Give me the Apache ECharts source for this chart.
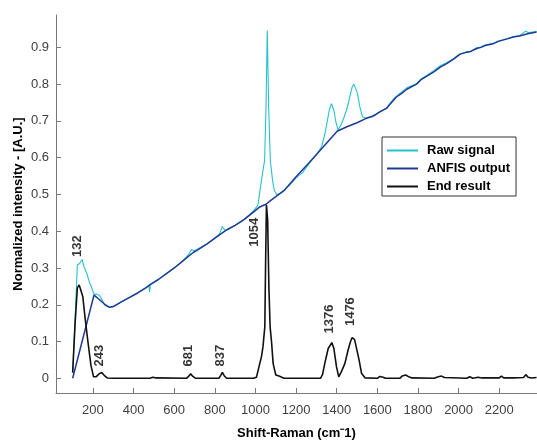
<!DOCTYPE html>
<html>
<head>
<meta charset="utf-8">
<script src="https://cdn.jsdelivr.net/npm/echarts@6/dist/echarts.min.js"></script>
<style>
  html, body { margin: 0; padding: 0; background: #ffffff; }
  #chart { width: 537px; height: 441px; }
</style>
</head>
<body>
<div id="chart"></div>
<script>
// Raman spectrum: raw signal, ANFIS baseline estimate and baseline-corrected result

const rawShift = [100, 112, 123, 134, 146, 158, 170, 182, 192, 205, 215, 222, 232, 241, 257, 270, 282, 300, 340, 380,
  420, 460, 475, 479, 483, 520, 560, 600, 640, 670, 685, 700, 760, 823, 837, 850, 900, 945, 990, 1012,
  1032, 1045, 1052, 1058, 1065, 1073, 1084, 1092, 1104, 1113, 1125, 1143, 1170, 1200, 1233, 1265, 1300, 1325, 1340, 1350,
  1363, 1374, 1386, 1396, 1407, 1416, 1424, 1436, 1448, 1458, 1468, 1476, 1484, 1492, 1500, 1507, 1514, 1527, 1545, 1575,
  1588, 1610, 1645, 1660, 1680, 1694, 1720, 1745, 1793, 1815, 1842, 1880, 1910, 1941, 1975, 2006, 2040, 2060, 2089, 2110,
  2130, 2171, 2200, 2240, 2269, 2300, 2330, 2345, 2384];
const rawIntensity = [0.018, 0.160, 0.308, 0.312, 0.323, 0.300, 0.285, 0.262, 0.249, 0.228, 0.229, 0.231, 0.226, 0.217, 0.200, 0.195, 0.193, 0.195, 0.208, 0.220,
  0.232, 0.246, 0.252, 0.235, 0.255, 0.268, 0.284, 0.300, 0.318, 0.336, 0.350, 0.347, 0.365, 0.392, 0.413, 0.402, 0.416, 0.432, 0.455, 0.471,
  0.548, 0.593, 0.740, 0.946, 0.740, 0.593, 0.539, 0.512, 0.500, 0.502, 0.503, 0.512, 0.527, 0.545, 0.560, 0.585, 0.608, 0.629, 0.660, 0.688,
  0.729, 0.747, 0.729, 0.697, 0.675, 0.680, 0.693, 0.710, 0.729, 0.750, 0.774, 0.792, 0.800, 0.795, 0.779, 0.760, 0.738, 0.711, 0.707, 0.713,
  0.717, 0.724, 0.735, 0.746, 0.760, 0.767, 0.779, 0.790, 0.801, 0.814, 0.823, 0.838, 0.850, 0.858, 0.869, 0.882, 0.888, 0.889, 0.899, 0.901,
  0.906, 0.911, 0.918, 0.924, 0.929, 0.932, 0.944, 0.940, 0.943];

const anfisShift = [100, 205, 230, 260, 282, 300, 340, 380, 420, 460, 479, 520, 560, 600, 640, 693, 710, 760, 823, 860,
  900, 945, 990, 1021, 1054, 1069, 1100, 1143, 1200, 1265, 1330, 1402, 1450, 1500, 1545, 1575, 1588, 1610, 1645, 1660,
  1694, 1720, 1745, 1793, 1815, 1842, 1880, 1910, 1941, 1975, 2006, 2040, 2060, 2089, 2110, 2130, 2171, 2200, 2240, 2269,
  2300, 2340, 2384];
const anfisIntensity = [0.000, 0.226, 0.215, 0.200, 0.193, 0.195, 0.208, 0.220, 0.232, 0.246, 0.254, 0.268, 0.284, 0.300, 0.318, 0.342, 0.347, 0.365, 0.390, 0.404,
  0.416, 0.432, 0.452, 0.466, 0.474, 0.481, 0.494, 0.512, 0.548, 0.587, 0.627, 0.672, 0.684, 0.695, 0.707, 0.712, 0.716, 0.724, 0.734, 0.744,
  0.765, 0.775, 0.786, 0.800, 0.812, 0.821, 0.834, 0.846, 0.856, 0.868, 0.881, 0.887, 0.889, 0.897, 0.900, 0.905, 0.910, 0.917, 0.923, 0.928,
  0.931, 0.937, 0.942];

const endShift = [100, 112, 123, 132, 140, 150, 160, 175, 190, 203, 215, 230, 243, 255, 270, 300, 480, 495, 510, 660,
  672, 681, 692, 705, 820, 829, 837, 846, 858, 990, 1005, 1021, 1030, 1037, 1046, 1050, 1054, 1060, 1066, 1072,
  1079, 1087, 1100, 1108, 1116, 1125, 1140, 1320, 1330, 1341, 1358, 1376, 1386, 1399, 1410, 1423, 1440, 1456, 1468, 1476,
  1488, 1497, 1510, 1522, 1540, 1600, 1612, 1620, 1628, 1640, 1710, 1722, 1740, 1755, 1770, 1880, 1900, 1916, 1930, 2040,
  2055, 2070, 2096, 2104, 2115, 2145, 2153, 2162, 2200, 2211, 2222, 2252, 2260, 2270, 2320, 2331, 2342, 2360, 2384];
const endIntensity = [0.015, 0.150, 0.246, 0.254, 0.240, 0.222, 0.170, 0.100, 0.035, 0.004, 0.004, 0.012, 0.016, 0.008, 0.001, 0.000, 0.000, 0.003, 0.001, 0.000,
  0.006, 0.012, 0.005, 0.000, 0.000, 0.008, 0.016, 0.007, 0.000, 0.000, 0.003, 0.040, 0.060, 0.086, 0.140, 0.320, 0.471, 0.430, 0.250, 0.140,
  0.100, 0.040, 0.009, 0.004, 0.006, 0.002, 0.000, 0.000, 0.010, 0.040, 0.081, 0.097, 0.081, 0.031, 0.004, 0.018, 0.040, 0.077, 0.100, 0.111,
  0.105, 0.100, 0.050, 0.014, 0.001, 0.000, 0.005, 0.008, 0.003, 0.000, 0.000, 0.006, 0.009, 0.004, 0.001, 0.000, 0.004, 0.006, 0.002, 0.000,
  0.004, 0.000, 0.003, 0.004, 0.001, 0.001, 0.004, 0.001, 0.001, 0.006, 0.001, 0.001, 0.003, 0.001, 0.002, 0.010, 0.003, 0.001, 0.002];

// Annotated peaks of the corrected spectrum and the height where each label starts
const peakShift = [132, 243, 681, 837, 1054, 1376, 1476];
const peakLabelHeight = [0.330, 0.032, 0.032, 0.032, 0.358, 0.122, 0.142];

const xTickValues = [200, 400, 600, 800, 1000, 1200, 1400, 1600, 1800, 2000, 2200];
const yTickValues = [0, 0.1, 0.2, 0.3, 0.4, 0.5, 0.6, 0.7, 0.8, 0.9];

const seriesNames = ['Raw signal', 'ANFIS output', 'End result'];

const zipXY = (xs, ys) => xs.map((x, i) => [x, ys[i]]);

const FONT = '"Liberation Sans", Arial, Helvetica, sans-serif';

const chart = echarts.init(document.getElementById('chart'), null, { renderer: 'canvas' });

chart.setOption({
  animation: false,
  backgroundColor: '#ffffff',
  grid: { left: 56, right: 0, top: 15, bottom: 48, containLabel: false, outerBoundsMode: 'none' },
  legend: {
    data: seriesNames,
    orient: 'vertical',
    left: 382,
    top: 137,
    icon: 'rect',
    itemWidth: 31,
    itemHeight: 2,
    itemGap: 5,
    padding: [7, 6, 3, 5],
    backgroundColor: '#ffffff',
    borderColor: '#333333',
    borderWidth: 1,
    borderRadius: 0,
    textStyle: { fontFamily: FONT, fontSize: 13, fontWeight: 'bold', color: '#000000', lineHeight: 13, padding: [0, 0, 0, 4] }
  },
  xAxis: {
    type: 'value',
    min: 18,
    max: 2386,
    name: 'Shift-Raman (cm\u207B1)',
    nameLocation: 'middle',
    nameGap: 34,
    nameMoveOverlap: false,
    nameTextStyle: { fontFamily: FONT, fontSize: 13, fontWeight: 'bold', color: '#000000' },
    axisLine: { show: true, onZero: false, lineStyle: { color: '#7a7a7a', width: 1 } },
    axisTick: { show: true, inside: true, length: 5, customValues: xTickValues, lineStyle: { color: '#7a7a7a' } },
    axisLabel: {
      customValues: xTickValues, margin: 11, fontFamily: FONT, fontSize: 13, color: '#404040',
      formatter: v => String(v)
    },
    splitLine: { show: false }
  },
  yAxis: {
    type: 'value',
    min: -0.04,
    max: 0.988,
    name: 'Normalized intensity - [A.U.]',
    nameLocation: 'middle',
    nameGap: 31,
    nameMoveOverlap: false,
    nameTextStyle: { fontFamily: FONT, fontSize: 13, fontWeight: 'bold', color: '#000000' },
    axisLine: { show: true, onZero: false, lineStyle: { color: '#7a7a7a', width: 1 } },
    axisTick: { show: true, inside: true, length: 5, customValues: yTickValues, lineStyle: { color: '#7a7a7a' } },
    axisLabel: {
      customValues: yTickValues, margin: 7, fontFamily: FONT, fontSize: 13, color: '#404040',
      formatter: v => (v === 0 ? '0' : v.toFixed(1))
    },
    splitLine: { show: false }
  },
  series: [
    {
      name: seriesNames[0], type: 'line', data: zipXY(rawShift, rawIntensity),
      showSymbol: false, symbol: 'none', color: '#22c3cc',
      lineStyle: { width: 1.1, color: '#22c3cc' }, z: 2
    },
    {
      name: seriesNames[1], type: 'line', data: zipXY(anfisShift, anfisIntensity),
      showSymbol: false, symbol: 'none', color: '#1f3a93',
      lineStyle: { width: 1.5, color: '#1f3a93' }, z: 3
    },
    {
      name: seriesNames[2], type: 'line', data: zipXY(endShift, endIntensity),
      showSymbol: false, symbol: 'none', color: '#111111',
      lineStyle: { width: 1.6, color: '#111111' }, z: 4
    },
    {
      name: 'peaks', type: 'scatter', silent: true, symbolSize: 0, z: 5,
      // label offsets are in the rotated text frame: the second component moves the text sideways
      data: peakShift.map((x, i) => ({
        value: [x, peakLabelHeight[i]],
        label: { offset: x === 1054 ? [0, -12] : [0, -2] }
      })),
      label: {
        show: true, position: 'inside', rotate: 90, align: 'left', verticalAlign: 'middle',
        fontFamily: FONT, fontSize: 13, fontWeight: 'bold', color: '#000000',
        formatter: p => String(p.value[0])
      }
    }
  ]
});
</script>
</body>
</html>
